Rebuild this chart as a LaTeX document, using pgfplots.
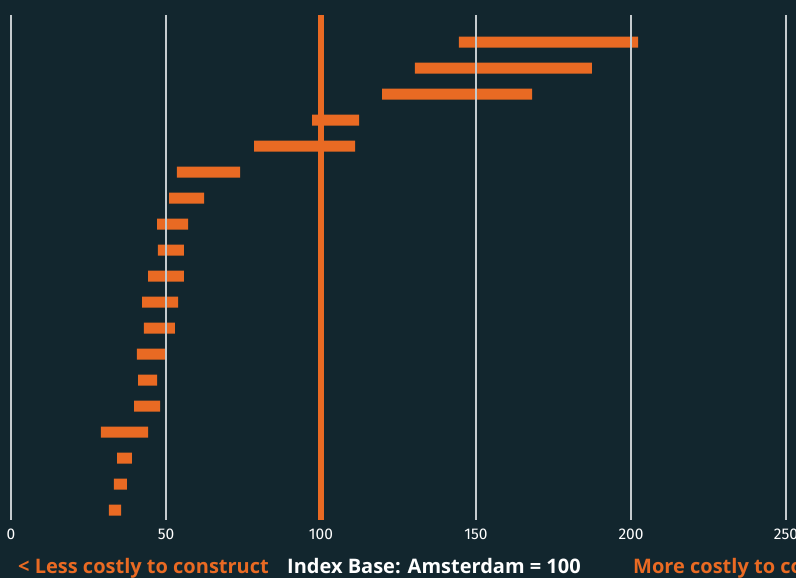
\documentclass[border=0pt]{standalone}
\usepackage{pgfplots}
\pgfplotsset{compat=1.18}
\usepackage{pgfplotstable}
\usepackage{fontspec}
\setmainfont{Fira Sans}
\newfontfamily\osans{Open Sans}
\definecolor{bg}{HTML}{12262E}
\definecolor{org}{HTML}{E96A23}
\definecolor{gridc}{HTML}{C5CBCE}
\pgfplotstableread{
row lo hi
1 144.5 202.3
2 130.3 187.4
3 119.7 168.1
4 97.1 112.3
5 78.4 111.0
6 53.5 73.9
7 51.0 62.3
8 47.1 57.1
9 47.4 55.8
10 44.2 55.8
11 42.3 53.9
12 42.9 52.9
13 40.6 50.0
14 41.0 47.1
15 39.7 48.1
16 29.0 44.2
17 34.2 39.0
18 33.2 37.4
19 31.6 35.5
}\ranges
\begin{document}
\begin{tikzpicture}[x=1pt,y=1pt]
\clip (0,0) rectangle (796,578);
\fill[bg] (0,0) rectangle (796,578);
\begin{axis}[at={(11pt,58pt)}, anchor=south west, scale only axis,
  width=775pt, height=505pt,
  xmin=0, xmax=250, ymin=-0.04, ymax=19.38, y dir=reverse,
  xbar stacked, bar width=11pt,
  axis line style={draw=none}, major tick length=0pt,
  xtick={0,50,100,150,200,250}, ytick=\empty,
  xmajorgrids, grid style={gridc, line width=1.4pt},
  extra x ticks={100}, extra x tick labels={},
  extra x tick style={grid style={org, line width=6pt}},
  xticklabel style={white, font=\fontsize{15.5}{15.5}\selectfont, yshift=-5pt},
  /pgf/number format/assume math mode=true,
  axis on top]
\addplot[draw=none, fill=none, forget plot] table[x=lo, y=row] {\ranges};
\addplot[draw=none, fill=org] table[x expr=\thisrow{hi}-\thisrow{lo}, y=row] {\ranges};
\end{axis}
\tikzset{btm/.style={anchor=base west, font=\osans\fontsize{20}{20}\selectfont\bfseries, inner sep=0pt}}
\node[btm, text=org] at (18,4) {< Less costly to construct};
\node[btm, text=white] at (287,4) {Index Base: Amsterdam = 100};
\node[btm, text=org] at (633,4) {More costly to construct >};
\end{tikzpicture}
\end{document}
